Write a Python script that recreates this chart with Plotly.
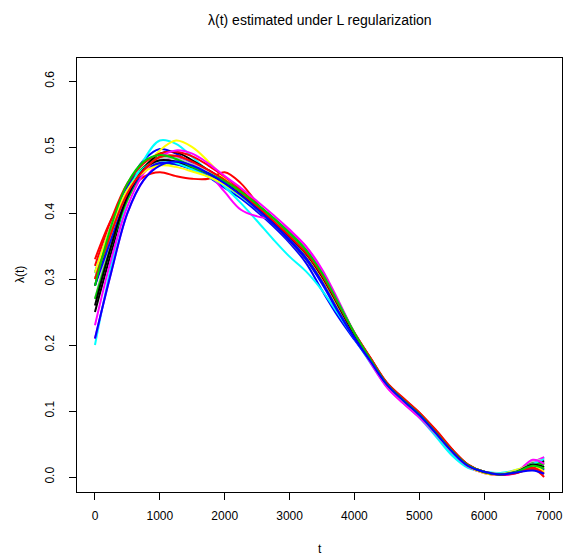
import plotly.graph_objects as go

t = [0, 250, 500, 750, 1000, 1250, 1500, 1750, 2000, 2250, 2500, 2750, 3000, 3250,
     3500, 3750, 4000, 4250, 4500, 4750, 5000, 5250, 5500, 5750, 6000, 6250, 6500, 6750, 6924]

c01 = [0.25, 0.34, 0.42, 0.465, 0.485, 0.485, 0.475, 0.462, 0.447, 0.428, 0.408, 0.386, 0.363, 0.337, 0.302, 0.258, 0.214, 0.176, 0.140, 0.117, 0.095, 0.068, 0.040, 0.018, 0.008, 0.004, 0.008, 0.020, 0.022]
c02 = [0.33, 0.39, 0.43, 0.455, 0.462, 0.456, 0.452, 0.452, 0.462, 0.445, 0.415, 0.385, 0.360, 0.333, 0.300, 0.260, 0.218, 0.180, 0.142, 0.118, 0.097, 0.072, 0.043, 0.019, 0.007, 0.003, 0.006, 0.012, 0.000]
c03 = [0.30, 0.38, 0.44, 0.47, 0.485, 0.482, 0.472, 0.462, 0.450, 0.433, 0.413, 0.392, 0.368, 0.342, 0.308, 0.263, 0.217, 0.178, 0.141, 0.117, 0.094, 0.067, 0.039, 0.017, 0.007, 0.004, 0.009, 0.022, 0.020]
c04 = [0.31, 0.38, 0.44, 0.48, 0.497, 0.49, 0.474, 0.455, 0.438, 0.422, 0.402, 0.380, 0.355, 0.325, 0.283, 0.243, 0.208, 0.175, 0.142, 0.117, 0.094, 0.066, 0.038, 0.017, 0.008, 0.004, 0.008, 0.016, 0.010]
c05 = [0.20, 0.32, 0.42, 0.48, 0.51, 0.505, 0.485, 0.463, 0.440, 0.415, 0.388, 0.360, 0.334, 0.312, 0.283, 0.247, 0.210, 0.172, 0.137, 0.113, 0.090, 0.062, 0.033, 0.014, 0.008, 0.006, 0.010, 0.017, 0.030]
c06 = [0.21, 0.31, 0.40, 0.45, 0.475, 0.485, 0.478, 0.460, 0.432, 0.405, 0.395, 0.390, 0.372, 0.350, 0.315, 0.268, 0.218, 0.176, 0.137, 0.112, 0.090, 0.064, 0.037, 0.016, 0.006, 0.003, 0.006, 0.022, 0.030]
c07 = [0.30, 0.36, 0.42, 0.465, 0.495, 0.51, 0.50, 0.478, 0.452, 0.428, 0.405, 0.383, 0.358, 0.330, 0.295, 0.255, 0.213, 0.176, 0.141, 0.118, 0.096, 0.069, 0.040, 0.017, 0.006, 0.004, 0.010, 0.020, 0.012]
c08 = [0.27, 0.36, 0.43, 0.465, 0.478, 0.476, 0.468, 0.458, 0.445, 0.428, 0.409, 0.388, 0.365, 0.340, 0.305, 0.262, 0.216, 0.177, 0.141, 0.117, 0.095, 0.068, 0.040, 0.018, 0.008, 0.005, 0.010, 0.024, 0.026]
c09 = [0.29, 0.37, 0.43, 0.468, 0.49, 0.492, 0.48, 0.465, 0.449, 0.430, 0.410, 0.388, 0.366, 0.341, 0.306, 0.261, 0.215, 0.177, 0.140, 0.116, 0.094, 0.067, 0.039, 0.018, 0.007, 0.004, 0.008, 0.018, 0.025]
c10 = [0.32, 0.39, 0.445, 0.475, 0.49, 0.493, 0.486, 0.472, 0.455, 0.435, 0.413, 0.390, 0.366, 0.340, 0.305, 0.263, 0.219, 0.180, 0.143, 0.119, 0.097, 0.070, 0.042, 0.019, 0.008, 0.004, 0.007, 0.018, 0.020]
c11 = [0.27, 0.35, 0.42, 0.462, 0.475, 0.474, 0.468, 0.460, 0.449, 0.432, 0.413, 0.393, 0.370, 0.345, 0.310, 0.265, 0.218, 0.178, 0.141, 0.117, 0.095, 0.068, 0.040, 0.018, 0.008, 0.004, 0.009, 0.021, 0.018]
c12 = [0.29, 0.36, 0.425, 0.462, 0.476, 0.474, 0.466, 0.456, 0.443, 0.425, 0.405, 0.383, 0.358, 0.330, 0.293, 0.250, 0.210, 0.174, 0.139, 0.116, 0.093, 0.066, 0.038, 0.017, 0.008, 0.004, 0.007, 0.015, 0.012]
c13 = [0.31, 0.38, 0.435, 0.468, 0.48, 0.476, 0.466, 0.455, 0.442, 0.425, 0.406, 0.386, 0.364, 0.340, 0.307, 0.264, 0.218, 0.178, 0.140, 0.115, 0.092, 0.064, 0.035, 0.015, 0.008, 0.006, 0.011, 0.020, 0.027]
c14 = [0.23, 0.33, 0.41, 0.46, 0.485, 0.495, 0.49, 0.475, 0.456, 0.438, 0.418, 0.397, 0.375, 0.350, 0.312, 0.265, 0.215, 0.173, 0.136, 0.112, 0.091, 0.066, 0.038, 0.016, 0.006, 0.003, 0.008, 0.026, 0.020]
c15 = [0.31, 0.38, 0.435, 0.462, 0.472, 0.47, 0.463, 0.455, 0.443, 0.426, 0.407, 0.386, 0.363, 0.337, 0.302, 0.259, 0.215, 0.177, 0.140, 0.116, 0.094, 0.067, 0.039, 0.017, 0.006, 0.004, 0.011, 0.017, 0.008]
c16 = [0.30, 0.37, 0.43, 0.465, 0.482, 0.483, 0.474, 0.462, 0.448, 0.430, 0.410, 0.389, 0.366, 0.341, 0.306, 0.262, 0.216, 0.177, 0.140, 0.116, 0.094, 0.067, 0.039, 0.018, 0.008, 0.005, 0.009, 0.019, 0.015]
c17 = [0.26, 0.35, 0.425, 0.466, 0.48, 0.478, 0.47, 0.46, 0.446, 0.428, 0.408, 0.387, 0.364, 0.339, 0.304, 0.260, 0.215, 0.177, 0.141, 0.118, 0.096, 0.069, 0.041, 0.018, 0.007, 0.004, 0.008, 0.019, 0.015]
c18 = [0.30, 0.37, 0.43, 0.465, 0.485, 0.487, 0.478, 0.465, 0.45, 0.431, 0.41, 0.388, 0.365, 0.34, 0.306, 0.262, 0.218, 0.18, 0.143, 0.12, 0.098, 0.071, 0.042, 0.019, 0.008, 0.004, 0.006, 0.014, 0.005]
c19 = [0.29, 0.38, 0.445, 0.478, 0.488, 0.482, 0.47, 0.46, 0.448, 0.432, 0.413, 0.392, 0.369, 0.344, 0.309, 0.264, 0.218, 0.178, 0.141, 0.117, 0.095, 0.068, 0.040, 0.018, 0.008, 0.004, 0.008, 0.017, 0.013]
c20 = [0.21, 0.31, 0.40, 0.45, 0.472, 0.478, 0.472, 0.46, 0.445, 0.427, 0.406, 0.384, 0.36, 0.333, 0.296, 0.252, 0.211, 0.175, 0.14, 0.116, 0.094, 0.067, 0.039, 0.017, 0.008, 0.004, 0.007, 0.010, 0.005]

curves = [c01, c02, c03, c04, c05, c06, c07, c08, c09, c10,
          c11, c12, c13, c14, c15, c16, c17, c18, c19, c20]
palette = ["#000000", "#FF0000", "#00CD00", "#0000FF", "#00FFFF", "#FF00FF", "#FFFF00", "#BEBEBE"]

x_ticks = [0, 1000, 2000, 3000, 4000, 5000, 6000, 7000]
y_ticks = [0.0, 0.1, 0.2, 0.3, 0.4, 0.5, 0.6]
y_tick_text = ["0.0", "0.1", "0.2", "0.3", "0.4", "0.5", "0.6"]

FONT = "Liberation Sans, Arial, sans-serif"

fig = go.Figure()
for i, c in enumerate(curves):
    fig.add_trace(go.Scatter(x=t, y=c, mode="lines",
                             line=dict(color=palette[i % 8], width=2, shape="spline", smoothing=1.0),
                             showlegend=False, hoverinfo="skip"))

fig.update_layout(
    width=564, height=556,
    margin=dict(l=77, r=2, t=58, b=64),
    paper_bgcolor="white", plot_bgcolor="white",
    font=dict(family=FONT, size=12, color="black"),
    showlegend=False,
)
fig.update_xaxes(range=[-277, 7200], tickvals=x_ticks, ticktext=[str(v) for v in x_ticks],
                 ticks="outside", ticklen=7, tickcolor="black", tickwidth=1,
                 showline=True, linecolor="black", linewidth=1, mirror=True,
                 showgrid=False, zeroline=False, ticklabelstandoff=6,
                 tickfont=dict(family=FONT, size=12, color="black"))
fig.update_yaxes(range=[-0.0227, 0.635], tickvals=y_ticks, ticktext=y_tick_text,
                 ticks="outside", ticklen=7, tickcolor="black", tickwidth=1,
                 showline=True, linecolor="black", linewidth=1, mirror=True,
                 showgrid=False, zeroline=False, tickangle=-90, ticklabelstandoff=10,
                 tickfont=dict(family=FONT, size=12, color="black"))

fig.add_annotation(text="λ(t) estimated under L regularization", xref="paper", yref="paper",
                   x=0.5, y=1, yshift=38, showarrow=False, xanchor="center", yanchor="middle",
                   font=dict(family=FONT, size=14, color="black"))
fig.add_annotation(text="t", xref="paper", yref="paper", x=0.5, y=0, yshift=-57,
                   showarrow=False, xanchor="center", yanchor="middle",
                   font=dict(family=FONT, size=12, color="black"))
fig.add_annotation(text="λ(t)", xref="paper", yref="paper", x=0, y=0.5, xshift=-57,
                   showarrow=False, xanchor="center", yanchor="middle", textangle=-90,
                   font=dict(family=FONT, size=12, color="black"))

fig.write_html("out.html")
